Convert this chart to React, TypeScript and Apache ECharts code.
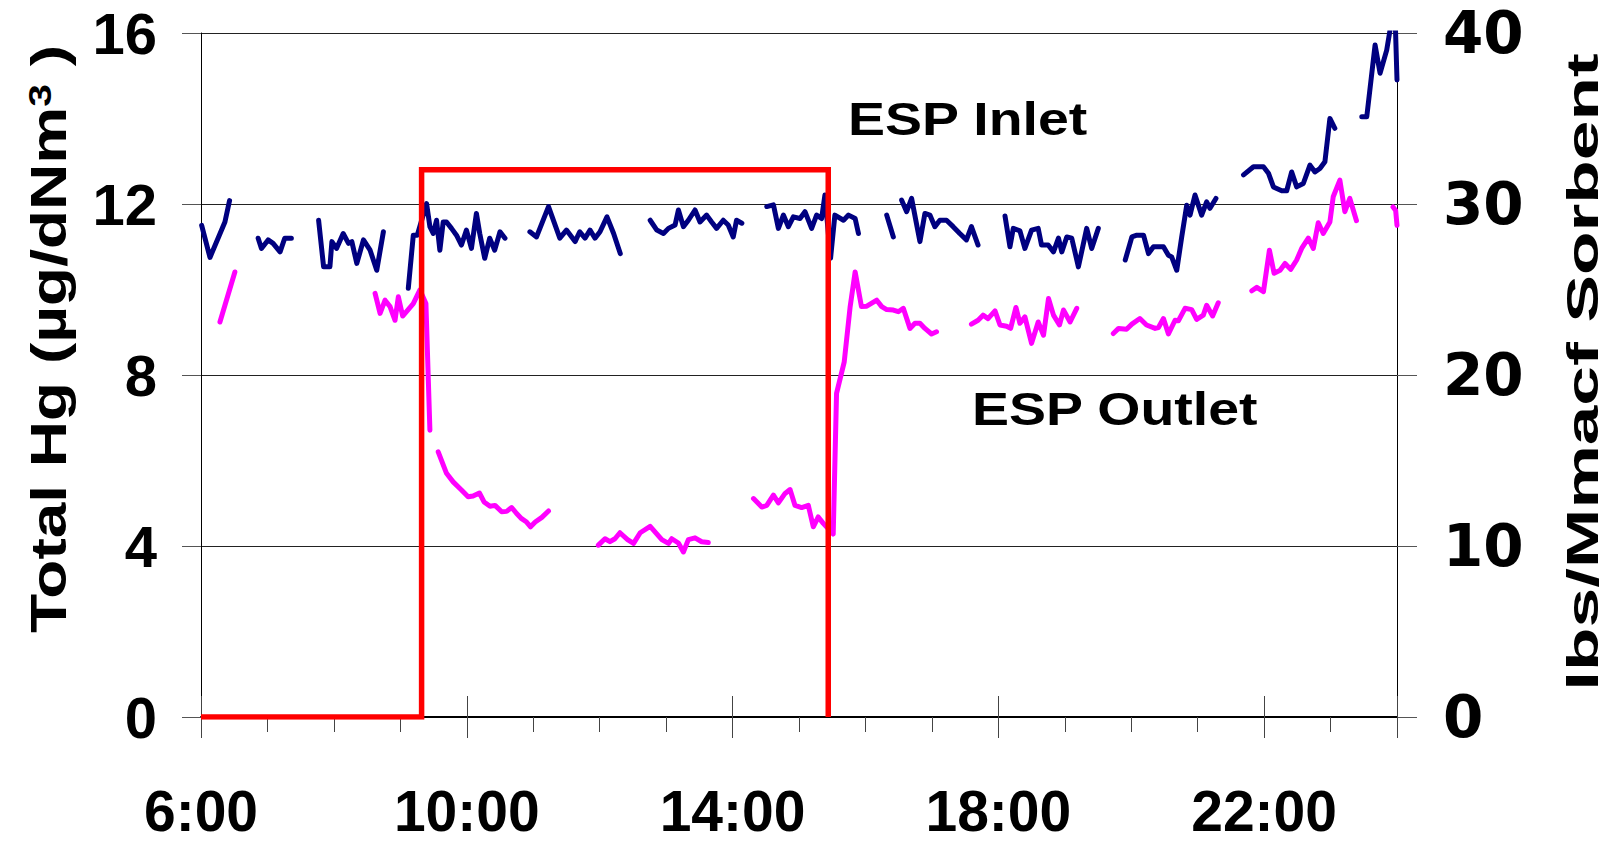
import React, { useEffect, useRef } from "react";
import * as echarts from "echarts";

type Pt = [number, number];

// ---- axis ticks / labels ----
const hourLabels = [6, 10, 14, 18, 22];
const xMin = 6;
const xMax = 24;
const hgMax = 16;
const hgStep = 4;
const sorbentMax = 40;
const sorbentStep = 10;

// ---- ESP Inlet (Total Hg, µg/dNm3), hours of day ----
const inlet01: Pt[] = [[6.01, 11.5], [6.135, 10.75], [6.36, 11.58], [6.43, 12.08]];
const inlet02: Pt[] = [[6.86, 11.2], [6.91, 10.96], [7.01, 11.16], [7.085, 11.08], [7.19, 10.88], [7.26, 11.2], [7.36, 11.2]];
const inlet03: Pt[] = [[7.77, 11.62], [7.845, 10.53], [7.94, 10.53], [7.97, 11.12], [8.04, 10.96], [8.14, 11.31], [8.22, 11.08], [8.27, 11.12], [8.345, 10.61], [8.445, 11.16], [8.545, 10.92], [8.645, 10.45], [8.745, 11.35]];
const inlet04: Pt[] = [[9.12, 10.03], [9.195, 11.27], [9.255, 11.27], [9.395, 12.01], [9.445, 11.47], [9.495, 11.31], [9.545, 11.62], [9.595, 10.92], [9.645, 11.58], [9.695, 11.58], [9.77, 11.43], [9.845, 11.27], [9.92, 11.04], [9.995, 11.39], [10.07, 10.96], [10.145, 11.78], [10.195, 11.31], [10.27, 10.73], [10.345, 11.2], [10.42, 10.92], [10.5, 11.35], [10.575, 11.2]];
const inlet05: Pt[] = [[10.95, 11.35], [11.05, 11.23], [11.23, 11.94], [11.4, 11.2], [11.5, 11.39], [11.63, 11.12], [11.7, 11.35], [11.78, 11.2], [11.855, 11.39], [11.93, 11.2], [12.005, 11.35], [12.11, 11.7], [12.21, 11.31], [12.31, 10.84]];
const inlet06: Pt[] = [[12.76, 11.62], [12.86, 11.39], [12.96, 11.31], [13.035, 11.43], [13.135, 11.51], [13.185, 11.86], [13.26, 11.47], [13.335, 11.62], [13.435, 11.86], [13.51, 11.58], [13.61, 11.74], [13.685, 11.58], [13.76, 11.43], [13.86, 11.62], [13.935, 11.51], [14.01, 11.23], [14.06, 11.62], [14.14, 11.55]];
const inlet07: Pt[] = [[14.515, 11.94], [14.615, 11.98], [14.69, 11.43], [14.765, 11.74], [14.84, 11.47], [14.915, 11.7], [15.015, 11.66], [15.09, 11.82], [15.19, 11.43], [15.265, 11.74], [15.34, 11.66], [15.39, 12.21], [15.475, 10.73], [15.54, 11.74], [15.67, 11.62], [15.745, 11.74], [15.845, 11.66], [15.895, 11.31]];
const inlet08: Pt[] = [[16.32, 11.74], [16.42, 11.23]];
const inlet09: Pt[] = [[16.545, 12.09], [16.62, 11.82], [16.695, 12.13], [16.82, 11.12], [16.895, 11.78], [16.97, 11.74], [17.045, 11.47], [17.12, 11.62], [17.22, 11.62], [17.32, 11.47], [17.42, 11.31], [17.52, 11.16], [17.595, 11.47], [17.695, 11.04]];
const inlet10: Pt[] = [[18.1, 11.72], [18.175, 11.0], [18.225, 11.43], [18.325, 11.37], [18.4, 10.96], [18.5, 11.39], [18.6, 11.43], [18.65, 11.04], [18.75, 11.04], [18.83, 10.88], [18.905, 11.2], [18.955, 10.88], [19.03, 11.23], [19.105, 11.2], [19.205, 10.53], [19.33, 11.43], [19.405, 10.96], [19.505, 11.43]];
const inlet11: Pt[] = [[19.91, 10.69], [20.01, 11.23], [20.085, 11.27], [20.185, 11.27], [20.26, 10.84], [20.335, 11.0], [20.485, 11.0], [20.56, 10.8], [20.61, 10.76], [20.685, 10.45], [20.76, 11.23], [20.835, 11.97], [20.885, 11.74], [20.96, 12.21], [21.06, 11.74], [21.135, 12.05], [21.185, 11.9], [21.275, 12.13]];
const inlet12: Pt[] = [[21.69, 12.68], [21.84, 12.87], [21.99, 12.87], [22.065, 12.72], [22.14, 12.4], [22.265, 12.31], [22.34, 12.31], [22.415, 12.75], [22.49, 12.4], [22.59, 12.48], [22.69, 12.91], [22.765, 12.75], [22.84, 12.83], [22.915, 12.99], [22.99, 14.0], [23.065, 13.77]];
const inlet13: Pt[] = [[23.47, 14.04], [23.545, 14.04], [23.67, 15.72], [23.745, 15.06], [23.845, 15.6], [23.92, 16.3], [23.975, 16.2], [24.0, 14.9]];
const inletSegments: Pt[][] = [inlet01, inlet02, inlet03, inlet04, inlet05, inlet06, inlet07, inlet08, inlet09, inlet10, inlet11, inlet12, inlet13];

// ---- ESP Outlet (Total Hg, µg/dNm3) ----
const outlet01: Pt[] = [[6.285, 9.24], [6.51, 10.41]];
const outlet02: Pt[] = [[8.62, 9.91], [8.695, 9.44], [8.77, 9.75], [8.845, 9.6], [8.92, 9.28], [8.97, 9.83], [9.035, 9.38], [9.195, 9.67], [9.295, 9.99], [9.385, 9.67], [9.445, 6.71]];
const outlet03: Pt[] = [[9.57, 6.2], [9.695, 5.7], [9.795, 5.5], [9.92, 5.31], [10.02, 5.15], [10.095, 5.17], [10.19, 5.24], [10.26, 5.03], [10.35, 4.93], [10.425, 4.95], [10.525, 4.8], [10.6, 4.81], [10.675, 4.9], [10.75, 4.76], [10.825, 4.64], [10.9, 4.56], [10.96, 4.45], [11.03, 4.56], [11.13, 4.67], [11.23, 4.82]];
const outlet04: Pt[] = [[11.98, 4.02], [12.08, 4.17], [12.155, 4.1], [12.23, 4.17], [12.305, 4.31], [12.42, 4.15], [12.51, 4.06], [12.61, 4.31], [12.76, 4.46], [12.935, 4.15], [13.035, 4.06], [13.085, 4.17], [13.185, 4.07], [13.26, 3.86], [13.335, 4.15], [13.435, 4.19], [13.535, 4.1], [13.635, 4.08]];
const outlet05: Pt[] = [[14.315, 5.11], [14.44, 4.91], [14.515, 4.95], [14.615, 5.19], [14.69, 5.01], [14.79, 5.23], [14.865, 5.32], [14.94, 4.95], [15.04, 4.9], [15.14, 4.95], [15.215, 4.45], [15.29, 4.68], [15.365, 4.53], [15.515, 4.28], [15.565, 7.57], [15.68, 8.3], [15.77, 9.6], [15.845, 10.41], [15.94, 9.6], [16.02, 9.61], [16.17, 9.75], [16.245, 9.6], [16.32, 9.53], [16.42, 9.52], [16.495, 9.48], [16.57, 9.56], [16.67, 9.09], [16.745, 9.21], [16.82, 9.21], [16.895, 9.09], [16.995, 8.96], [17.07, 9.01]];
const outlet06: Pt[] = [[17.595, 9.19], [17.695, 9.28], [17.77, 9.4], [17.845, 9.32], [17.95, 9.5], [18.025, 9.17], [18.125, 9.14], [18.185, 9.09], [18.265, 9.58], [18.325, 9.21], [18.4, 9.36], [18.5, 8.74], [18.6, 9.24], [18.68, 8.93], [18.755, 9.79], [18.83, 9.4], [18.92, 9.17], [18.98, 9.52], [19.08, 9.24], [19.18, 9.56]];
const outlet07: Pt[] = [[19.73, 8.97], [19.81, 9.09], [19.93, 9.07], [20.01, 9.19], [20.13, 9.32], [20.23, 9.17], [20.36, 9.09], [20.41, 9.11], [20.485, 9.32], [20.56, 8.96], [20.66, 9.28], [20.71, 9.27], [20.81, 9.56], [20.91, 9.53], [20.985, 9.3], [21.085, 9.4], [21.135, 9.63], [21.225, 9.38], [21.31, 9.69]];
const outlet08: Pt[] = [[21.815, 9.97], [21.89, 10.05], [21.99, 9.95], [22.08, 10.92], [22.15, 10.38], [22.24, 10.45], [22.315, 10.61], [22.4, 10.47], [22.49, 10.69], [22.565, 10.96], [22.665, 11.2], [22.74, 10.96], [22.815, 11.56], [22.89, 11.31], [22.99, 11.58], [23.04, 12.17], [23.14, 12.56], [23.215, 11.82], [23.29, 12.13], [23.39, 11.61]];
const outlet09: Pt[] = [[23.94, 11.93], [23.98, 11.85], [24.0, 11.5]];
const outletSegments: Pt[][] = [outlet01, outlet02, outlet03, outlet04, outlet05, outlet06, outlet07, outlet08, outlet09];

// ---- Sorbent injection rate (lbs/Mmacf) ----
const sorbentHours = [6, 9.32, 9.32, 15.44, 15.44];
const sorbentRate = [0, 0, 32, 32, 0];

const FONT = "'Liberation Sans', Arial, Helvetica, sans-serif";

function joinSegments(segs: Pt[][]): (number | string)[][] {
  const out: (number | string)[][] = [];
  segs.forEach((s, i) => {
    if (i > 0) {
      const prev = segs[i - 1];
      out.push([(prev[prev.length - 1][0] + s[0][0]) / 2, "-"]);
    }
    s.forEach((p) => out.push([p[0], p[1]]));
  });
  return out;
}

export default function App() {
  const ref = useRef<HTMLDivElement>(null);

  useEffect(() => {
    if (!ref.current) return;
    const chart = echarts.init(ref.current, undefined, { renderer: "svg" });

    const baseX = {
      type: "value",
      min: xMin,
      max: xMax,
      position: "bottom",
      splitLine: { show: false },
    };

    const option: any = {
      animation: false,
      backgroundColor: "#ffffff",
      grid: { left: 201, top: 33, width: 1196, height: 684, outerBoundsMode: "none" },
      xAxis: [
        {
          ...baseX,
          interval: 1,
          axisLine: { show: true, onZero: false, lineStyle: { color: "#000", width: 2 } },
          axisTick: { show: true, inside: false, length: 15, lineStyle: { color: "#444", width: 1 } },
          axisLabel: {
            show: true,
            margin: 64,
            lineHeight: 60,
            color: "#000",
            fontSize: 57,
            fontWeight: "bold",
            fontFamily: FONT,
            formatter: (v: number) => (hourLabels.includes(v) ? `${v}:00` : ""),
          },
        },
        {
          ...baseX,
          interval: 4,
          axisLine: { show: false, onZero: false },
          axisTick: { show: true, inside: false, length: 21, lineStyle: { color: "#444", width: 1 } },
          axisLabel: { show: false },
        },
        {
          ...baseX,
          interval: 4,
          axisLine: { show: false, onZero: false },
          axisTick: { show: true, inside: true, length: 21, lineStyle: { color: "#444", width: 1 } },
          axisLabel: { show: false },
        },
      ],
      yAxis: [
        {
          type: "value",
          position: "left",
          min: 0,
          max: hgMax,
          interval: hgStep,
          axisLine: { show: true, onZero: false, lineStyle: { color: "#000", width: 1 } },
          axisTick: { show: true, inside: false, length: 19, lineStyle: { color: "#555", width: 1 } },
          axisLabel: { margin: 44, color: "#000", fontSize: 58, fontWeight: "bold", fontFamily: FONT },
          splitLine: { show: true, lineStyle: { color: "#222", width: 1 } },
        },
        {
          type: "value",
          position: "right",
          min: 0,
          max: sorbentMax,
          interval: sorbentStep,
          axisLine: { show: true, onZero: false, lineStyle: { color: "#000", width: 1 } },
          axisTick: { show: true, inside: false, length: 20, lineStyle: { color: "#555", width: 1 } },
          axisLabel: { margin: 46, color: "#000", fontSize: 58, fontWeight: "bold", fontFamily: "'DejaVu Sans', sans-serif" },
          splitLine: { show: false },
        },
      ],
      series: [
        {
          name: "ESP Inlet",
          type: "line",
          xAxisIndex: 0,
          yAxisIndex: 0,
          data: joinSegments(inletSegments),
          showSymbol: false,
          symbol: "none",
          connectNulls: false,
          lineStyle: { color: "#000080", width: 5, cap: "round", join: "round" },
        },
        {
          name: "ESP Outlet",
          type: "line",
          xAxisIndex: 0,
          yAxisIndex: 0,
          data: joinSegments(outletSegments),
          showSymbol: false,
          symbol: "none",
          connectNulls: false,
          lineStyle: { color: "#ff00ff", width: 5, cap: "round", join: "round" },
        },
        {
          name: "Sorbent",
          type: "line",
          xAxisIndex: 0,
          yAxisIndex: 1,
          data: sorbentHours.map((h, i) => [h, sorbentRate[i]]),
          showSymbol: false,
          symbol: "none",
          lineStyle: { color: "#ff0000", width: 5.5, join: "miter" },
        },
      ],
      graphic: [
        {
          type: "text",
          x: 49,
          y: 339,
          rotation: Math.PI / 2,
          scaleX: 1.28,
          style: {
            text: "{n|Total Hg (µg/dNm}{s|3}{n| )}",
            align: "center",
            verticalAlign: "middle",
            fill: "#000",
            rich: {
              n: { fontSize: 50, fontWeight: "bold", fontFamily: FONT, fill: "#000", verticalAlign: "bottom" },
              s: { fontSize: 32, fontWeight: "bold", fontFamily: FONT, fill: "#000", verticalAlign: "top" },
            },
          },
        },
        {
          type: "text",
          x: 1583,
          y: 372,
          rotation: Math.PI / 2,
          scaleX: 1.62,
          style: {
            text: "lbs/Mmacf Sorbent",
            align: "center",
            verticalAlign: "middle",
            fill: "#000",
            fontSize: 44,
            fontWeight: "bold",
            fontFamily: FONT,
          },
        },
        {
          type: "text",
          x: 848,
          y: 119,
          scaleX: 1.18,
          style: {
            text: "ESP Inlet",
            align: "left",
            verticalAlign: "middle",
            fill: "#000",
            fontSize: 47,
            fontWeight: "bold",
            fontFamily: FONT,
          },
        },
        {
          type: "text",
          x: 972,
          y: 409,
          scaleX: 1.18,
          style: {
            text: "ESP Outlet",
            align: "left",
            verticalAlign: "middle",
            fill: "#000",
            fontSize: 47,
            fontWeight: "bold",
            fontFamily: FONT,
          },
        },
      ],
    };

    chart.setOption(option);
    return () => chart.dispose();
  }, []);

  return (
    <div
      ref={ref}
      style={{ position: "absolute", left: 0, top: 0, width: 1610, height: 845, background: "#fff" }}
    />
  );
}
